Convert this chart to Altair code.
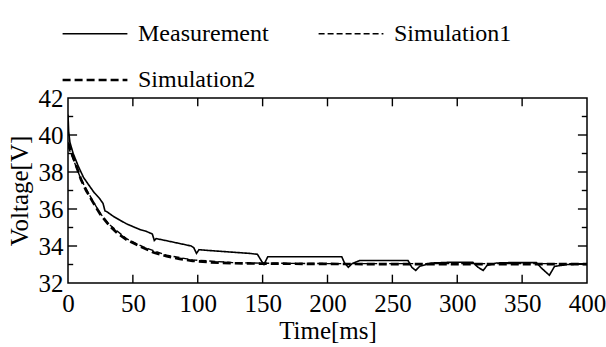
import altair as alt
import pandas as pd

# Measurement
meas_t = [0, 0.5, 1.5, 4, 8, 12, 16, 20, 24, 27, 28.5, 30, 35, 40, 45, 50, 55, 60, 65, 66.5, 68, 75, 85, 95, 97, 99, 101,
          110, 120, 130, 140, 146, 149, 151, 154, 180, 211, 213, 216, 219, 225, 240, 262, 265, 268, 271, 280, 295, 312,
          316, 320, 323, 330, 340, 361, 365, 371, 375, 385, 400]
meas_v = [41.1, 40.2, 39.6, 39.0, 38.3, 37.7, 37.3, 36.9, 36.6, 36.3, 35.9, 35.85, 35.6, 35.4, 35.2, 35.05, 34.9, 34.8,
          34.65, 34.3, 34.4, 34.3, 34.15, 34.0, 33.9, 33.6, 33.8, 33.75, 33.7, 33.65, 33.6, 33.55, 33.2, 33.0, 33.42,
          33.42, 33.42, 33.1, 32.85, 33.05, 33.22, 33.22, 33.22, 32.85, 32.68, 32.9, 33.08, 33.12, 33.12, 32.85, 32.68,
          32.95, 33.08, 33.1, 33.1, 32.8, 32.42, 32.9, 33.0, 33.03]

# Simulation1
sim1_t = [0, 4, 10, 19, 25, 32, 45, 58, 76, 96, 127, 150, 200, 250, 300, 350, 400]
sim1_v = [39.4, 38.7, 37.6, 36.45, 35.75, 35.15, 34.4, 33.95, 33.5, 33.25, 33.1, 33.07, 33.05, 33.05, 33.05, 33.05, 33.05]

# Simulation2
sim2_t = [0, 2, 4, 7, 10, 14, 19, 25, 32, 38, 45, 52, 58, 66, 76, 86, 96, 110, 127, 150, 200, 250, 300, 350, 400]
sim2_v = [39.6, 39.2, 38.8, 38.2, 37.6, 37.0, 36.4, 35.7, 35.1, 34.7, 34.35, 34.1, 33.9, 33.65, 33.45, 33.3, 33.2,
          33.12, 33.07, 33.05, 33.03, 33.02, 33.02, 33.02, 33.02]

series = ["Measurement", "Simulation1", "Simulation2"]

x_ticks = [0, 50, 100, 150, 200, 250, 300, 350, 400]
y_ticks = [32, 34, 36, 38, 40, 42]
x_inner = [50, 100, 150, 200, 250, 300, 350]
y_major = [34, 36, 38, 40]
y_minor = [33, 35, 37, 39, 41]

FONT = "Liberation Serif, Times New Roman, DejaVu Serif, serif"

rows = []
for name, ts, vs in zip(series, [meas_t, sim1_t, sim2_t], [meas_v, sim1_v, sim2_v]):
    for i, (t, v) in enumerate(zip(ts, vs)):
        rows.append({"t": t, "v": v, "series": name, "order": i})
df = pd.DataFrame(rows)

tick_rows = []
for t in x_inner:
    tick_rows.append({"x": t, "x2": t, "y": 32, "y2": 32.45})
    tick_rows.append({"x": t, "x2": t, "y": 42, "y2": 41.55})
for v in y_major:
    tick_rows.append({"x": 0, "x2": 7, "y": v, "y2": v})
    tick_rows.append({"x": 400, "x2": 393, "y": v, "y2": v})
for v in y_minor:
    tick_rows.append({"x": 0, "x2": 4, "y": v, "y2": v})
    tick_rows.append({"x": 400, "x2": 396, "y": v, "y2": v})
ticks_df = pd.DataFrame(tick_rows)

xscale = alt.Scale(domain=[0, 400], nice=False)
yscale = alt.Scale(domain=[32, 42], nice=False)

legend = alt.Legend(
    title=None, orient="none", legendX=-7, legendY=-98, columns=2, direction="horizontal",
    symbolType="stroke", symbolSize=4200, symbolStrokeColor="black",
    labelOffset=9, columnPadding=46, rowPadding=-19, padding=0, symbolLimit=0,
    labelFont=FONT, labelFontSize=24, labelColor="black",
)

xaxis = alt.Axis(values=x_ticks, title="Time[ms]", labelPadding=8, titlePadding=2)
yaxis = alt.Axis(values=y_ticks, title="Voltage[V]", labelPadding=5, titlePadding=6)

lines = alt.Chart(df).mark_line(color="black", clip=True).encode(
    x=alt.X("t:Q", scale=xscale, axis=xaxis),
    y=alt.Y("v:Q", scale=yscale, axis=yaxis),
    strokeDash=alt.StrokeDash("series:O", scale=alt.Scale(type="ordinal", domain=series,
                                                          range=[[1, 0], [6, 3], [8, 4]]),
                              legend=legend),
    strokeWidth=alt.StrokeWidth("series:O", scale=alt.Scale(type="ordinal", domain=series,
                                                            range=[1.6, 1.4, 2.7]),
                                legend=legend),
    order="order:Q",
)

tickmarks = alt.Chart(ticks_df).mark_rule(color="black", strokeWidth=1.4).encode(
    x=alt.X("x:Q", scale=xscale, axis=xaxis), x2="x2:Q",
    y=alt.Y("y:Q", scale=yscale, axis=yaxis), y2="y2:Q",
)

chart = alt.layer(lines, tickmarks).properties(
    width=519, height=185,
    autosize=alt.AutoSizeParams(type="none"),
    padding={"left": 68, "top": 98, "right": 19, "bottom": 64},
    background="white",
).configure(font=FONT).configure_view(stroke="black", strokeWidth=1.5).configure_axis(
    grid=False, ticks=False, domain=False, labelFont=FONT, labelFontSize=25, labelColor="black",
    titleFont=FONT, titleFontSize=25, titleFontWeight="normal", titleColor="black",
    labelFlush=False, labelOverlap=False,
).configure_legend(labelFont=FONT, labelFontSize=24, labelColor="black")

chart.save("out.html", embed_options={"renderer": "svg", "actions": False})
